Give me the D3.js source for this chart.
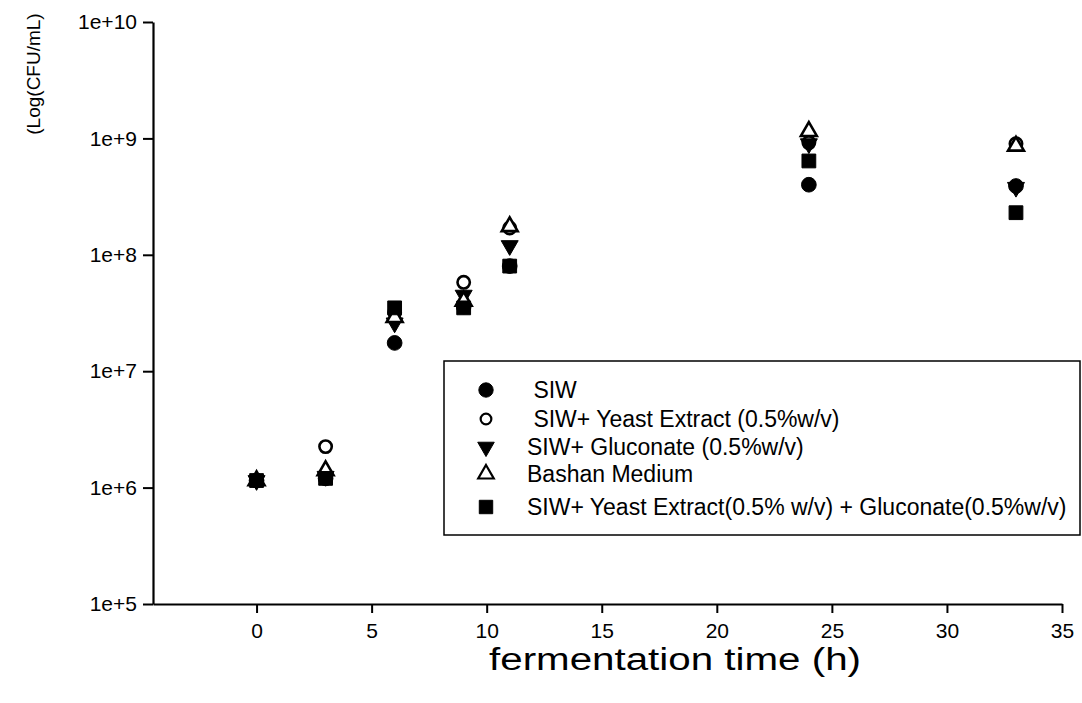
<!DOCTYPE html>
<html>
<head>
<meta charset="utf-8">
<script src="https://cdn.jsdelivr.net/npm/d3@7"></script>
<style>
  body { margin: 0; background: #fff; }
  svg { font-family: "Liberation Sans", Arial, sans-serif; }
</style>
</head>
<body>
<svg id="chart" width="1082" height="703"></svg>
<script>
// ---- data ----
const times = [0, 3, 6, 9, 11, 24, 33];
const siw = [1.15e6, 1.2e6, 1.75e7, 3.6e7, 8.0e7, 4.0e8, 3.9e8];
const siwYeast = [1.15e6, 2.25e6, 3.2e7, 5.8e7, 1.7e8, 9.2e8, 9.0e8];
const siwGluconate = [1.15e6, 1.25e6, 2.6e7, 4.5e7, 1.2e8, 9.0e8, 3.8e8];
const bashan = [1.15e6, 1.4e6, 2.9e7, 4.0e7, 1.75e8, 1.15e9, 8.6e8];
const siwYeastGluconate = [1.15e6, 1.2e6, 3.5e7, 3.5e7, 8.0e7, 6.4e8, 2.3e8];
const seriesNames = [" SIW", " SIW+ Yeast Extract (0.5%w/v)", "SIW+ Gluconate (0.5%w/v)", "Bashan Medium", "SIW+ Yeast Extract(0.5% w/v) + Gluconate(0.5%w/v)"];
const xTicks = [0, 5, 10, 15, 20, 25, 30, 35];
const yTicks = [1e5, 1e6, 1e7, 1e8, 1e9, 1e10];
const yTickLabels = ["1e+5", "1e+6", "1e+7", "1e+8", "1e+9", "1e+10"];
const xTitle = "fermentation time (h)";
const yTitle = "(Log(CFU/mL)";

const seriesValues = [siw, siwYeast, siwGluconate, bashan, siwYeastGluconate];
const markers = [
  {type: d3.symbolCircle, size: 170, fill: "#000", rot: 0},
  {type: d3.symbolCircle, size: 120, fill: "#fff", rot: 0},
  {type: d3.symbolTriangle, size: 125, fill: "#000", rot: 180},
  {type: d3.symbolTriangle, size: 110, fill: "#fff", rot: 0},
  {type: d3.symbolSquare, size: 190, fill: "#000", rot: 0}
];

const svg = d3.select("#chart");
const x = d3.scaleLinear().domain([-4.5, 35]).range([153, 1062]);
const y = d3.scaleLog().domain([1e5, 1e10]).range([604, 22]);

// axes
const xAxis = d3.axisBottom(x).tickValues(xTicks).tickSize(9).tickSizeOuter(0).tickPadding(10);
const gx = svg.append("g").attr("transform", "translate(0,604)").call(xAxis);
gx.attr("font-family", null).attr("font-size", null);
gx.select(".domain").attr("stroke", "#000").attr("stroke-width", 2.2);
gx.selectAll(".tick line").attr("stroke", "#000").attr("stroke-width", 2);
gx.selectAll("text").attr("font-size", 21).attr("fill", "#000");

const yAxis = d3.axisLeft(y).tickValues(yTicks).tickFormat((d, i) => yTickLabels[i]).tickSize(10).tickSizeOuter(0).tickPadding(6);
const gy = svg.append("g").attr("transform", "translate(153,0)").call(yAxis);
gy.attr("font-family", null).attr("font-size", null);
gy.select(".domain").attr("stroke", "#000").attr("stroke-width", 2.2);
gy.selectAll(".tick line").attr("stroke", "#000").attr("stroke-width", 2);
gy.selectAll("text").attr("font-size", 21).attr("fill", "#000");

// titles
svg.append("text").attr("x", 675).attr("y", 670).attr("text-anchor", "middle")
  .attr("font-size", 31).attr("textLength", 372).attr("lengthAdjust", "spacingAndGlyphs").text(xTitle);
svg.append("text").attr("transform", "translate(40,74) rotate(-90)").attr("text-anchor", "middle")
  .attr("font-size", 19).text(yTitle);

// points
seriesValues.forEach((vals, si) => {
  const m = markers[si];
  const sym = d3.symbol().type(m.type).size(m.size);
  svg.append("g").selectAll("path").data(vals).join("path")
    .attr("d", sym)
    .attr("transform", (d, i) => `translate(${x(times[i])},${y(d)}) rotate(${m.rot})`)
    .attr("fill", m.fill)
    .attr("stroke", "#000")
    .attr("stroke-width", m.fill === "#fff" ? 2.6 : 1);
});

// legend
const lg = svg.append("g");
lg.append("rect").attr("x", 444).attr("y", 361).attr("width", 636).attr("height", 174)
  .attr("fill", "#fff").attr("stroke", "#000").attr("stroke-width", 1.5);
const rowY = [390, 419, 447, 474, 507];
seriesNames.forEach((name, i) => {
  const m = markers[i];
  const sym = d3.symbol().type(m.type).size(m.size * (i === 1 ? 0.75 : 0.95));
  lg.append("path").attr("d", sym)
    .attr("transform", `translate(486,${rowY[i]}) rotate(${m.rot})`)
    .attr("fill", m.fill).attr("stroke", "#000").attr("stroke-width", m.fill === "#fff" ? 2.2 : 1);
  lg.append("text").attr("x", 527).attr("y", rowY[i]).attr("dy", "0.36em")
    .attr("font-size", 23).style("white-space", "pre").text(name);
});
</script>
</body>
</html>
